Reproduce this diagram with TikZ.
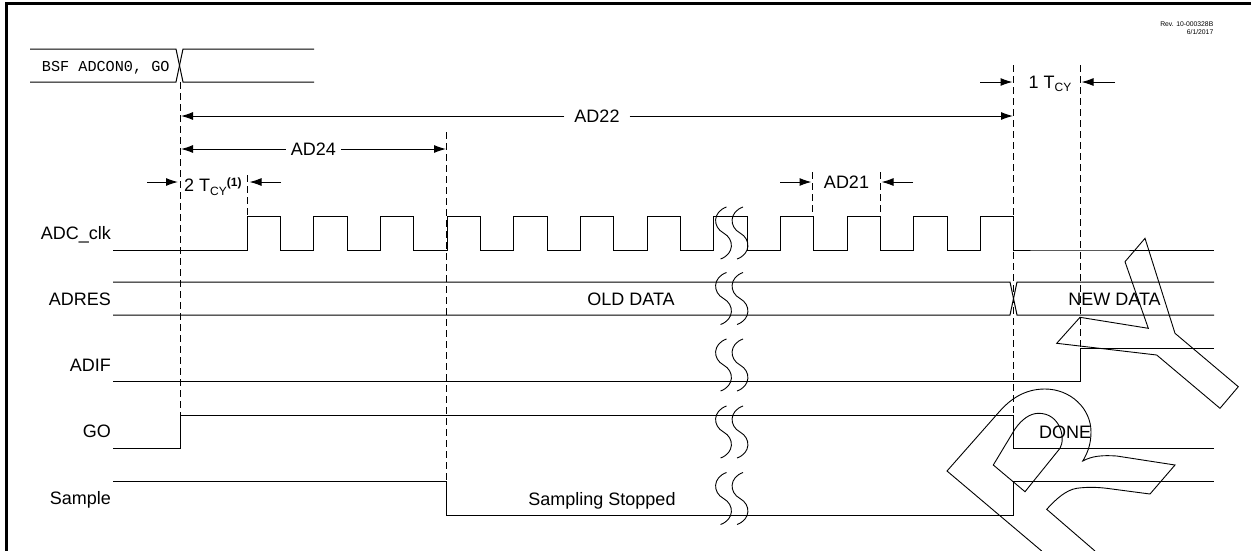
\documentclass[tikz,border=0pt]{standalone}
\usepackage{fontspec}
\setmainfont{Liberation Sans}
\newfontfamily\monofnt{Liberation Mono}
\usetikzlibrary{arrows.meta}
\begin{document}
\begin{tikzpicture}[x=1pt,y=-1pt,
  sig/.style={line width=1pt},
  guide/.style={line width=1pt, dash pattern=on 7pt off 4pt},
  dim/.style={line width=1pt, -{Latex[length=12pt,width=8pt]}},
  lbl/.style={font=\fontsize{18}{20}\selectfont, inner sep=0pt},
  wave/.style={line width=0.9pt},
  logo/.style={line width=0.9pt}
]
\useasboundingbox (0,0) rectangle (1251,550);
% frame
\draw[line width=2.6pt] (6.2,552) -- (6.2,3.2) -- (1253,3.2);
\node[anchor=north east, align=right, inner sep=0pt, font=\fontsize{6.8}{7.4}\selectfont] (rev) at (1213.5,22) {Rev. 10-000328B\\6/1/2017};

% signal names
\node[lbl, anchor=base east] (nclk) at (111,239.3) {ADC\_clk};
\node[lbl, anchor=base east] (nres) at (111,305.3) {ADRES};
\node[lbl, anchor=base east] (nif)  at (111,371)   {ADIF};
\node[lbl, anchor=base east] (ngo)  at (111,437.7) {GO};
\node[lbl, anchor=base east] (nsmp) at (111,504.5) {Sample};

% instruction bus
\draw[sig] (30,49) -- (176,49) -- (183,82) -- (314,82);
\draw[sig] (30,82) -- (176,82) -- (183,49) -- (314,49);
\node[anchor=base west, inner sep=0pt, font=\monofnt\fontsize{15.2}{16}\selectfont] (bsf) at (41.7,71) {BSF ADCON0, GO};

% guide coordinates
\coordinate (g0t) at (180,82);    \coordinate (g0b) at (180,415);
\coordinate (g1t) at (247,175);   \coordinate (g1b) at (247,216);
\coordinate (g2t) at (446,132);   \coordinate (g2b) at (446,481);
\coordinate (g3t) at (812.7,172); \coordinate (g3b) at (812.7,216);
\coordinate (g4t) at (880,172);   \coordinate (g4b) at (880,216);
\coordinate (g5t) at (1013.5,65); \coordinate (g5b) at (1013.5,448);
\coordinate (g6t) at (1080,65);   \coordinate (g6b) at (1080,348);
\foreach \g in {0,...,6} \draw[guide] (g\g t) -- (g\g b);

% ADC_clk
\draw[sig] (113,250) -- (247,250) foreach \k in {0,...,11} { -- ++(0,-34) -- ++(33.333,0) -- ++(0,34) -- ++(33.333,0) } -- (1214,250);

% ADRES
\draw[sig] (113,282) -- (1010,282) -- (1017,315) -- (1214,315);
\draw[sig] (113,315) -- (1010,315) -- (1017,282) -- (1214,282);
\node[lbl, anchor=base] (old) at (631,305) {OLD DATA};
\node[lbl, anchor=base] (new) at (1114.5,305) {NEW DATA};

% ADIF
\draw[sig] (113,381) -- (1080,381) -- (1080,348) -- (1214,348);

% GO
\draw[sig] (113,448) -- (180,448) -- (180,415) -- (1013.5,415) -- (1013.5,448) -- (1214,448);
\node[lbl, anchor=base] (done) at (1065,438.5) {DONE};

% Sample
\draw[sig] (113,481) -- (446,481) -- (446,515) -- (1013.5,515) -- (1013.5,481) -- (1214,481);
\node[lbl, anchor=base] (stop) at (602,505) {Sampling Stopped};

% break marks
\foreach \cy in {233,298.5,365,432,498.5}
  \foreach \cx in {723.5,740}
    \draw[wave] (\cx+3,\cy-26) .. controls (\cx-11,\cy-21) and (\cx-11,\cy-6) .. (\cx,\cy)
                .. controls (\cx+11,\cy+6) and (\cx+11,\cy+21) .. (\cx-3,\cy+26);

% AD22
\node[lbl] (ad22) at (597,116) {AD22};
\coordinate (ad22l) at (181,116); \coordinate (ad22r) at (1013,116);
\draw[dim] ([xshift=-10pt]ad22.west) -- (ad22l);
\draw[dim] ([xshift=10pt]ad22.east) -- (ad22r);

% AD24
\node[lbl] (ad24) at (313.5,149) {AD24};
\coordinate (ad24l) at (181,149); \coordinate (ad24r) at (446,149);
\draw[dim] ([xshift=-5pt]ad24.west) -- (ad24l);
\draw[dim] ([xshift=5pt]ad24.east) -- (ad24r);

% 2 TCY
\node[lbl, anchor=base west] (tcy2) at (184,191.7) {2 T\raisebox{-3.5pt}{\fontsize{12}{12}\selectfont CY}\raisebox{5.5pt}{\fontsize{12}{12}\selectfont\bfseries(1)}};
\coordinate (t2a) at (147,182); \coordinate (t2b) at (178,182);
\coordinate (t2c) at (281,182); \coordinate (t2d) at (249.5,182);
\draw[dim] (t2a) -- (t2b);
\draw[dim] (t2c) -- (t2d);

% AD21
\node[lbl] (ad21) at (846.5,182) {AD21};
\coordinate (a21a) at (780,182); \coordinate (a21b) at (811.5,182);
\coordinate (a21c) at (913,182); \coordinate (a21d) at (881.5,182);
\draw[dim] (a21a) -- (a21b);
\draw[dim] (a21c) -- (a21d);

% 1 TCY
\node[lbl, anchor=base west] (tcy1) at (1028.5,88) {1 T\raisebox{-3.5pt}{\fontsize{12}{12}\selectfont CY}};
\coordinate (t1a) at (980,82); \coordinate (t1b) at (1012.5,82);
\coordinate (t1c) at (1115,82); \coordinate (t1d) at (1081.5,82);
\draw[dim] (t1a) -- (t1b);
\draw[dim] (t1c) -- (t1d);

% outline graphic
\draw[logo] (1145,238.3) -- (1125,261.7) -- (1148.3,328.3) -- (1080,317.3) -- (1056.7,343.3)
  -- (1156.7,355) -- (1220,408.3) -- (1238.3,386.7) -- (1175,333.3) -- cycle;
\draw[logo] (1041.7,551) -- (947,471) -- (999.3,411.7)
  .. controls (1013,396) and (1028,389) .. (1045,389)
  .. controls (1070,389) and (1091,408) .. (1091,432)
  .. controls (1091,445) and (1087,454) .. (1082.7,461)
  .. controls (1092,456) and (1102,455) .. (1116.7,456)
  -- (1175,465) -- (1150,494) -- (1106.7,488.3)
  .. controls (1096,487) and (1086,487) .. (1076.7,488.3)
  .. controls (1066,490) and (1056,499) .. (1046.7,509.3)
  -- (1095,551);
\draw[logo] (993.3,465) -- (1025,491.7) -- (1060,448.3)
  .. controls (1066,438) and (1060,413) .. (1038.3,413.3)
  .. controls (1030,413.5) and (1022,419) .. (1015,429) -- cycle;
\end{tikzpicture}
\end{document}
